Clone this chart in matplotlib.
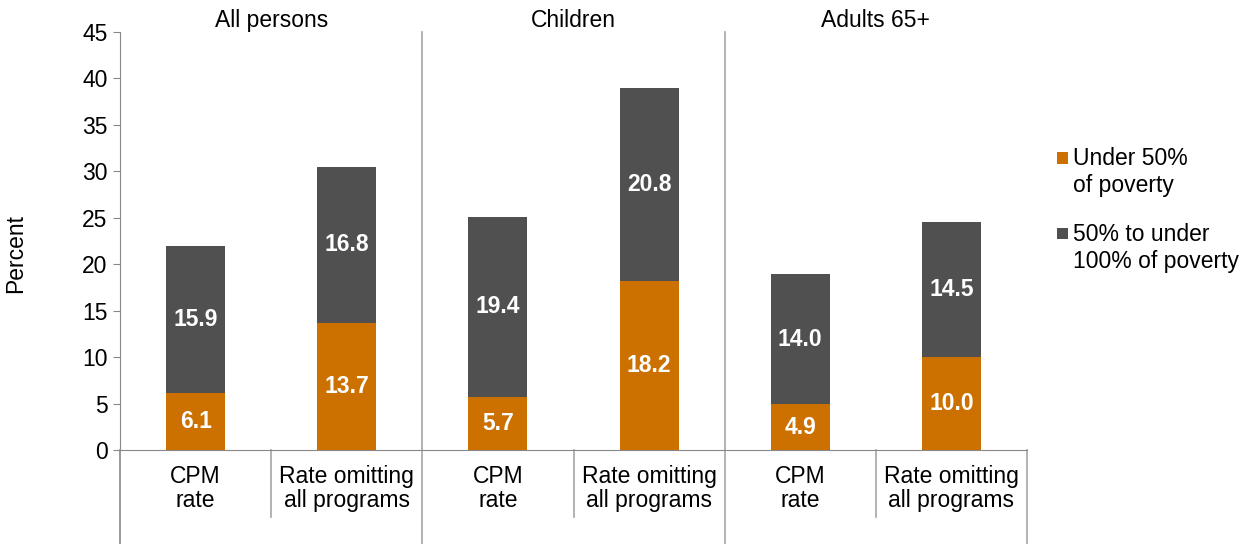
import matplotlib
matplotlib.use("Agg")
import matplotlib.pyplot as plt
import matplotlib.transforms as mtransforms
from matplotlib.patches import Rectangle

plt.rcParams['font.family'] = ['Liberation Sans', 'DejaVu Sans']

groups = ["All persons", "Children", "Adults 65+"]
subcats = ["CPM\nrate", "Rate omitting\nall programs"]
under50 = [6.1, 13.7, 5.7, 18.2, 4.9, 10.0]
mid = [15.9, 16.8, 19.4, 20.8, 14.0, 14.5]
series_names = ["Under 50%\nof poverty", "50% to under\n100% of poverty"]
yticks = [0, 5, 10, 15, 20, 25, 30, 35, 40, 45]

orange = "#CC7000"
dark = "#505050"
linec = "#A6A6A6"
FS = 16.5
W, H = 1241, 544

fig = plt.figure(figsize=(12.41, 5.44), dpi=100)
ax = fig.add_axes([120/W, 94/H, (1027-120)/W, (450-32)/H])

n = len(under50)
xs = [i + 0.5 for i in range(n)]
w = 0.39
ax.bar(xs, under50, width=w, color=orange, label=series_names[0], zorder=3)
ax.bar(xs, mid, width=w, bottom=under50, color=dark, label=series_names[1], zorder=3)

for x, u, m in zip(xs, under50, mid):
    ax.text(x, u / 2, f"{u:.1f}", ha='center', va='center', color='white',
            fontsize=FS, fontweight='bold', zorder=4)
    ax.text(x, u + m / 2, f"{m:.1f}", ha='center', va='center', color='white',
            fontsize=FS, fontweight='bold', zorder=4)

ax.set_xlim(0, n)
ax.set_ylim(0, 45)
ax.set_yticks(yticks)
ax.tick_params(axis='y', labelsize=FS, length=5, color='#888888', pad=4)
ax.set_xticks([])
for s in ['top', 'right']:
    ax.spines[s].set_visible(False)
ax.spines['left'].set_color('#888888')
ax.spines['bottom'].set_color('#888888')
ax.set_ylabel("Percent", fontsize=FS)
ax.yaxis.set_label_coords(-0.1025, 0.471)

trans = mtransforms.blended_transform_factory(ax.transData, ax.transAxes)
for gx in [0, 2, 4, 6]:
    top = 1.0 if gx in (2, 4) else 0.0
    ax.plot([gx, gx], [-0.225, top], transform=trans,
            color=linec if gx in (2, 4, 6) else '#888888',
            lw=1.2, clip_on=False, zorder=1)
for sx in [1, 3, 5]:
    ax.plot([sx, sx], [-0.16, 0], transform=trans, color=linec, lw=1.2, clip_on=False)

for i, x in enumerate(xs):
    ax.text(x, -0.092, subcats[i % 2], transform=trans, ha='center', va='center',
            fontsize=FS, linespacing=1.05)
for g, name in enumerate(groups):
    ax.text(2 * g + 1, 1.0, name, transform=trans, ha='center', va='bottom', fontsize=FS)

# legend: square aligned with first text line
leg_colors = [orange, dark]
leg_sq_y = [158, 234]
for col, name, sy in zip(leg_colors, series_names, leg_sq_y):
    fig.add_artist(Rectangle((1057/W, 1 - (sy + 5.5)/H), 11/W, 11/H,
                             transform=fig.transFigure, facecolor=col, edgecolor='none'))
    fig.text(1073/W, 1 - (sy + 14)/H, name, ha='left', va='center', fontsize=FS,
             linespacing=1.25)

fig.savefig("out.png", dpi=100)
